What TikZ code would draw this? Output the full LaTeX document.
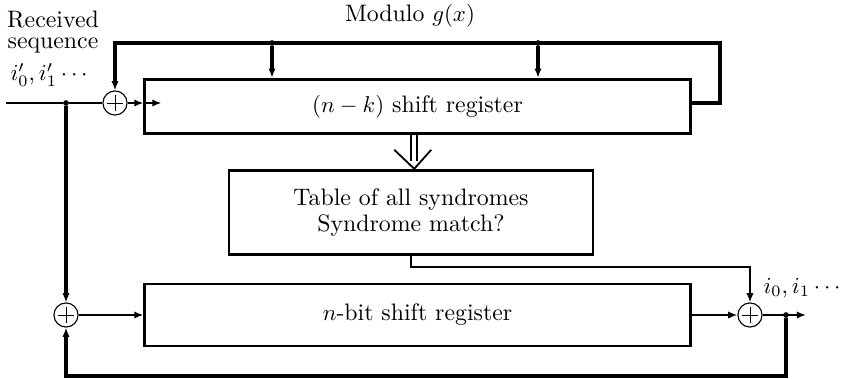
\documentclass[tikz,border=0pt]{standalone}
\usepackage{amsmath}
\usetikzlibrary{positioning,arrows.meta,calc}

\begin{document}
\begin{tikzpicture}[
  x=0.01535cm, y=-0.01535cm,
  every node/.style={font=\fontsize{10.4pt}{12.5pt}\selectfont},
  reg/.style={draw, line width=1.2pt, align=center, inner sep=0pt},
  xor/.style={draw, circle, line width=0.5pt, minimum size=0.37cm, inner sep=0pt,
    path picture={\draw[line width=0.4pt]
      ([xshift=-0.13cm]path picture bounding box.center) -- ([xshift=0.13cm]path picture bounding box.center)
      ([yshift=-0.13cm]path picture bounding box.center) -- ([yshift=0.13cm]path picture bounding box.center);}},
  wire/.style={line width=1pt},
  bus/.style={line width=1.4pt},
  arr/.style={-{Latex[length=4pt,width=3.2pt]}},
  dot/.style={circle, fill, inner sep=0pt, minimum size=2.5pt}
]
\useasboundingbox (0,0) rectangle (847,378);
% registers and table
\node[reg, minimum width=8.37cm, minimum height=0.84cm] (sr) at (417.5,106.5) {$(n-k)$ shift register};
\node[reg, minimum width=5.59cm, minimum height=1.3cm] (tab) at (411,212.5) {Table of all syndromes\\[-1pt]Syndrome match?};
\node[reg, minimum width=8.37cm, minimum height=0.95cm] (nb) at (417.5,315) {$n$-bit shift register};
% adders and taps
\node[xor] (x1) at (115,103) {};
\node[xor] (x3) at (66,315) {};
\node[xor] (x2) at (750,315) {};
\node[dot] (din) at (66,103) {};
\node[dot] (dout) at (786,315) {};
\node[dot] (t1) at (272,43) {};
\node[dot] (t2) at (538,43) {};
\coordinate (in) at (6,103);
\coordinate (out) at (806,315);
\coordinate (fbr) at (720,43);
\coordinate (fbl) at (115,43);
\coordinate (low) at (786,376);
\coordinate (sm) at (411,267);
\coordinate (sin) at (sr.west |- x1);
\coordinate (stip) at ($(sin)+(18,0)$);
% labels
\node (mod) at (410,16) {Modulo $g(x)$};
\node[align=center] (rcv) at (53,32) {Received\\[-3pt]sequence};
\node (iin) at (51,75) {$i'_0, i'_1 \cdots$};
\node (iout) at (804,288) {$i_0, i_1 \cdots$};
% connections
\draw[wire] (in) -- (din) -- (x1);
\draw[wire,arr] (x1) -- (sin);
\draw[wire,arr] (sin) -- (stip);
\draw[bus,arr] (sr.east |- x1) -| (fbr) -- (fbl) -- (x1);
\draw[bus,arr] (t1) -- (t1 |- sr.north);
\draw[bus,arr] (t2) -- (t2 |- sr.north);
\draw[bus,arr] (din) -- (x3);
\draw[wire,arr] (x3) -- (nb);
\draw[wire,arr] (nb) -- (x2);
\draw[wire,arr] (tab.south) -- (sm) -| (x2);
\draw[wire,arr] (x2) -- (out);
\draw[bus,arr] (dout) -- (low) -| (x3);
% hollow arrow into the table
\coordinate (mid) at ($(sr.south)!0.5!(tab.north)$);
\draw[line width=0.8pt] ($(mid |- sr.south)+(-3,0)$) -- ++(0,26) ($(mid |- sr.south)+(3,0)$) -- ++(0,26);
\draw[line width=0.8pt] ($(mid |- tab.north)+(-20,-19)$) -- (mid |- tab.north) -- ($(mid |- tab.north)+(17,-19)$);
\end{tikzpicture}
\end{document}
